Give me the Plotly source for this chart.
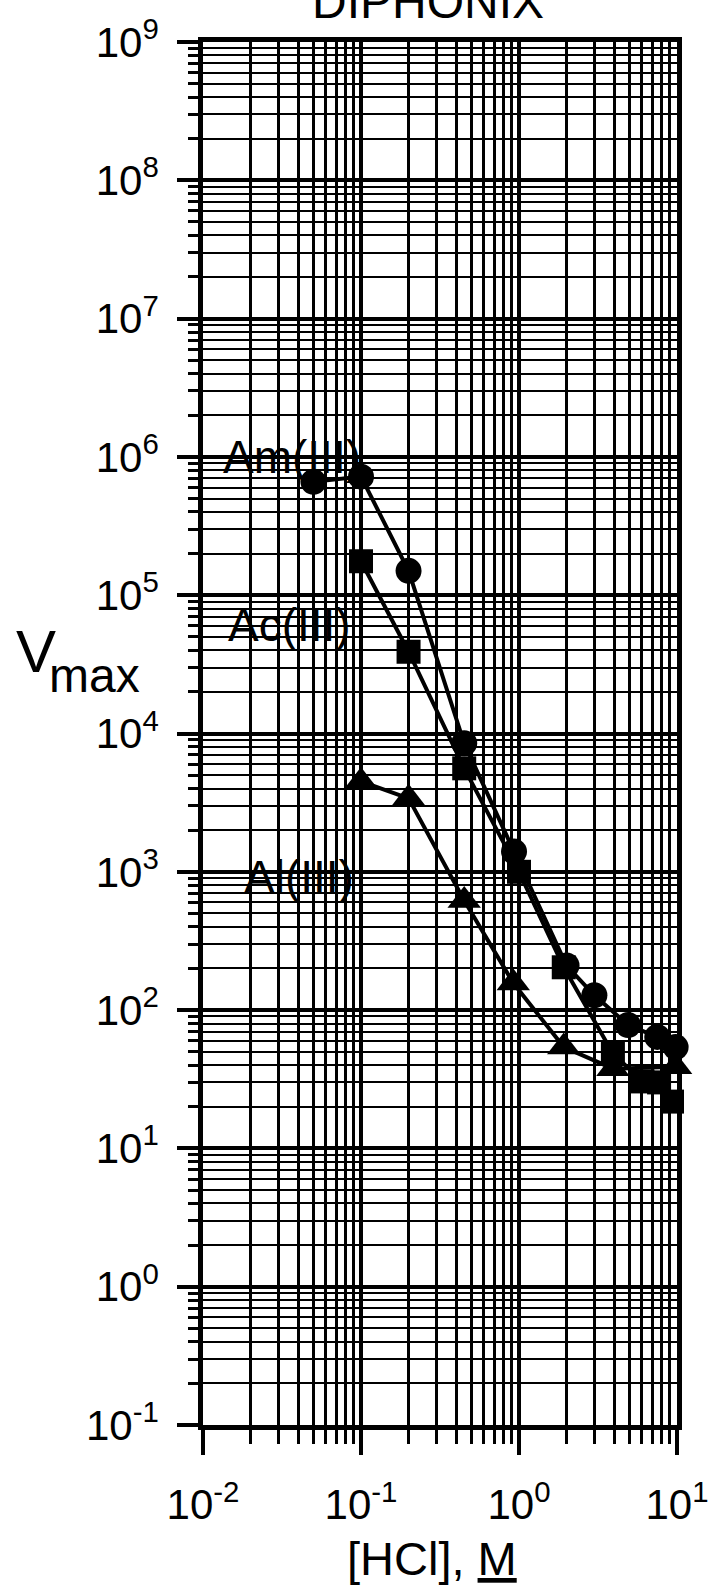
import plotly.graph_objects as go

# HCl concentration (M) and V_max for each ion
hcl_am = [0.05, 0.1, 0.2, 0.45, 0.93, 2.0, 3.0, 4.9, 7.5, 9.8]
vmax_am = [6.6e5, 7.2e5, 1.5e5, 8.5e3, 1.4e3, 210, 128, 78, 64, 54]

hcl_ac = [0.1, 0.2, 0.45, 1.0, 1.92, 3.93, 6.05, 7.7, 9.3]
vmax_ac = [1.76e5, 3.9e4, 5.6e3, 1.0e3, 204, 48.5, 30.5, 30, 21.8]

hcl_al = [0.1, 0.2, 0.45, 0.92, 1.92, 3.93, 9.8]
vmax_al = [4.5e3, 3.4e3, 620, 157, 54, 37.7, 39]

x_decades = [-2, -1, 0, 1]
y_decades = list(range(-1, 10))

FONT = "Liberation Sans, Arial, Helvetica, sans-serif"
W, H = 721, 1585
L, R, T, B = 203, 39, 35, 160
PW, PH = W - L - R, H - T - B


def px(x):
    return (x - L) / PW


def py(y):
    return (H - B - y) / PH


def sup_label(p):
    return "10<sup>%d</sup>" % p


def minor_vals(decades):
    return [k * 10.0 ** p for p in decades[:-1] for k in range(2, 10)]


line_style = dict(color="black", width=4)

fig = go.Figure()
fig.add_trace(go.Scatter(x=hcl_al, y=vmax_al, mode="lines+markers", line=line_style,
                         cliponaxis=False,
                         marker=dict(symbol="triangle-up", size=29, color="black")))
fig.add_trace(go.Scatter(x=hcl_ac, y=vmax_ac, mode="lines+markers", line=line_style,
                         cliponaxis=False,
                         marker=dict(symbol="square", size=24, color="black")))
fig.add_trace(go.Scatter(x=hcl_am, y=vmax_am, mode="lines+markers", line=line_style,
                         cliponaxis=False,
                         marker=dict(symbol="circle", size=26, color="black")))

axis_common = dict(
    type="log",
    showline=True, linecolor="black", linewidth=4.5, mirror=True,
    showgrid=True, gridcolor="black", gridwidth=3.5,
    ticks="outside", tickcolor="black", tickwidth=3.5,
    tickfont=dict(family=FONT, size=42, color="black"),
    zeroline=False,
)

fig.update_xaxes(
    **axis_common,
    range=[-2, 1],
    tickmode="array",
    tickvals=[10.0 ** p for p in x_decades],
    ticktext=[sup_label(p) for p in x_decades],
    ticklen=25,
    ticklabelstandoff=14,
    minor=dict(tickmode="array", tickvals=minor_vals(x_decades), ticks="outside",
               ticklen=14, tickwidth=3, tickcolor="black",
               showgrid=True, gridcolor="black", gridwidth=2.5),
)
fig.update_yaxes(
    **axis_common,
    range=[-1, 9],
    tickmode="array",
    tickvals=[10.0 ** p for p in y_decades],
    ticktext=[sup_label(p) for p in y_decades],
    ticklen=21,
    ticklabelstandoff=10,
    minor=dict(tickmode="array", tickvals=minor_vals(y_decades), ticks="outside",
               ticklen=10, tickwidth=3, tickcolor="black",
               showgrid=True, gridcolor="black", gridwidth=2.2),
)

annotations = [
    # title, mostly above the top edge of the page
    dict(text="DIPHONIX", x=px(430), y=py(-6), font=dict(size=48)),
    # axis titles
    dict(text="V", x=px(34), y=py(648), font=dict(size=60)),
    dict(text="max", x=px(45), y=py(672), xanchor="left", font=dict(size=48)),
    dict(text="[HCl], <u>M</u>", x=px(434), y=py(1559), font=dict(size=47)),
    # series labels
    dict(text="Am(III)", x=px(221), y=py(452), xanchor="left", font=dict(size=46)),
    dict(text="Ac(III)", x=px(226), y=py(621), xanchor="left", font=dict(size=46)),
    dict(text="Al(III)", x=px(242), y=py(874), xanchor="left", font=dict(size=46)),
]
for a in annotations:
    a.setdefault("xanchor", "center")
    a.setdefault("yanchor", "middle")
    a["xref"] = "paper"
    a["yref"] = "paper"
    a["showarrow"] = False
    a["font"] = dict(family=FONT, color="black", **a["font"])
fig.update_layout(annotations=annotations)

fig.update_layout(
    width=W, height=H,
    margin=dict(l=L, r=R, t=T, b=B, pad=0),
    paper_bgcolor="white", plot_bgcolor="white",
    showlegend=False,
    font=dict(family=FONT, color="black"),
)

fig.write_html("out.html", include_plotlyjs=True, config={"displayModeBar": False})
